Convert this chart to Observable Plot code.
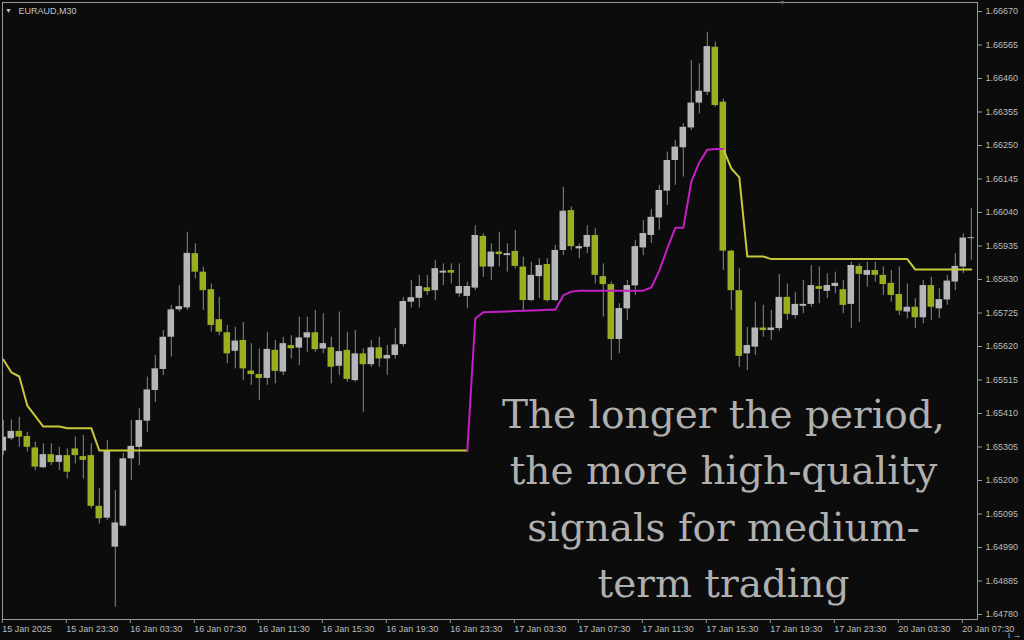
<!DOCTYPE html>
<html><head><meta charset="utf-8">
<script src="https://cdn.jsdelivr.net/npm/d3@7"></script>
<script src="https://cdn.jsdelivr.net/npm/@observablehq/plot@0.6"></script>
<style>html,body{margin:0;padding:0;background:#0c0c0c;overflow:hidden}</style>
</head><body><div id="chart"></div>
<script>
const symbolLabel = "EURAUD,M30";
const overlayText = "The longer the period,\nthe more high-quality\nsignals for medium-\nterm trading";

const openP = [
1.65292,1.65331,1.65354,1.65338,1.65302,1.65240,1.65281,1.65257,1.65278,1.65299,
1.65275,1.65278,1.65119,1.65082,1.64991,1.65057,1.65268,1.65304,1.65386,1.65482,
1.65548,1.65649,1.65735,1.65741,1.65911,1.65853,1.65798,1.65704,1.65663,1.65605,
1.65639,1.65543,1.65532,1.65520,1.65608,1.65540,1.65623,1.65615,1.65647,1.65663,
1.65612,1.65616,1.65558,1.65608,1.65513,1.65597,1.65563,1.65616,1.65581,1.65592,
1.65626,1.65759,1.65771,1.65804,1.65795,1.65850,1.65858,1.65785,1.65777,1.65803,
1.65965,1.65869,1.65916,1.65905,1.65918,1.65869,1.65764,1.65839,1.65877,1.65764,
1.65921,1.66046,1.65926,1.65931,1.65968,1.65839,1.65814,1.65642,1.65738,1.65810,
1.65929,1.65968,1.66023,1.66107,1.66203,1.66243,1.66305,1.66383,1.66417,1.66558,
1.66386,1.65919,1.65795,1.65597,1.65618,1.65678,1.65670,1.65676,1.65774,1.65717,
1.65746,1.65752,1.65808,1.65793,1.65808,1.65798,1.65752,1.65871,1.65843,1.65858,
1.65843,1.65818,1.65783,1.65728,1.65743,1.65710,1.65811,1.65738,1.65766,1.65822,
1.65869,1.65958];
const highP = [
1.65388,1.65390,1.65398,1.65351,1.65320,1.65315,1.65315,1.65304,1.65299,1.65336,
1.65341,1.65315,1.65174,1.65325,1.65169,1.65285,1.65388,1.65425,1.65524,1.65592,
1.65670,1.65749,1.65811,1.65978,1.65942,1.65869,1.65816,1.65774,1.65686,1.65680,
1.65696,1.65629,1.65613,1.65665,1.65639,1.65649,1.65654,1.65712,1.65712,1.65733,
1.65723,1.65649,1.65728,1.65665,1.65670,1.65613,1.65639,1.65649,1.65623,1.65676,
1.65774,1.65827,1.65843,1.65843,1.65890,1.65879,1.65879,1.65879,1.65822,1.65999,
1.65973,1.65942,1.65978,1.65942,1.65984,1.65900,1.65884,1.65895,1.65895,1.65937,
1.66119,1.66057,1.65942,1.65999,1.65989,1.65879,1.65822,1.65754,1.65827,1.65952,
1.66015,1.66049,1.66125,1.66229,1.66266,1.66318,1.66516,1.66506,1.66605,1.66574,
1.66396,1.65921,1.65864,1.65680,1.65759,1.65749,1.65733,1.65846,1.65816,1.65790,
1.65827,1.65874,1.65869,1.65848,1.65853,1.65827,1.65884,1.65879,1.65884,1.65884,
1.65869,1.65858,1.65869,1.65816,1.65770,1.65827,1.65837,1.65801,1.65843,1.65911,
1.65973,1.66052];
const lowP = [
1.65278,1.65325,1.65304,1.65289,1.65231,1.65237,1.65247,1.65231,1.65205,1.65252,
1.65205,1.65111,1.65064,1.65075,1.64803,1.65054,1.65200,1.65247,1.65351,1.65445,
1.65529,1.65587,1.65728,1.65733,1.65832,1.65733,1.65665,1.65654,1.65566,1.65550,
1.65513,1.65498,1.65451,1.65498,1.65503,1.65529,1.65581,1.65560,1.65602,1.65602,
1.65597,1.65503,1.65529,1.65508,1.65508,1.65414,1.65555,1.65555,1.65529,1.65581,
1.65618,1.65741,1.65741,1.65780,1.65764,1.65811,1.65816,1.65774,1.65738,1.65795,
1.65837,1.65827,1.65869,1.65853,1.65864,1.65728,1.65761,1.65770,1.65759,1.65761,
1.65905,1.65921,1.65895,1.65911,1.65816,1.65712,1.65576,1.65597,1.65702,1.65780,
1.65905,1.65943,1.65984,1.66062,1.66125,1.66151,1.66297,1.66349,1.66407,1.66370,
1.65858,1.65733,1.65554,1.65545,1.65592,1.65649,1.65639,1.65667,1.65702,1.65707,
1.65723,1.65743,1.65754,1.65770,1.65785,1.65723,1.65676,1.65696,1.65806,1.65822,
1.65780,1.65759,1.65717,1.65707,1.65676,1.65691,1.65702,1.65707,1.65749,1.65795,
1.65848,1.65890];
const closeP = [
1.65336,1.65354,1.65336,1.65304,1.65242,1.65281,1.65256,1.65278,1.65226,1.65278,
1.65263,1.65119,1.65080,1.65291,1.65067,1.65268,1.65307,1.65388,1.65484,1.65550,
1.65649,1.65735,1.65745,1.65912,1.65853,1.65795,1.65686,1.65665,1.65597,1.65637,
1.65550,1.65532,1.65520,1.65611,1.65542,1.65629,1.65613,1.65647,1.65663,1.65610,
1.65629,1.65555,1.65604,1.65517,1.65597,1.65563,1.65616,1.65581,1.65592,1.65625,
1.65761,1.65773,1.65808,1.65792,1.65864,1.65856,1.65850,1.65808,1.65808,1.65968,
1.65869,1.65916,1.65908,1.65911,1.65871,1.65764,1.65843,1.65874,1.65764,1.65921,
1.66044,1.65933,1.65933,1.65968,1.65843,1.65814,1.65642,1.65739,1.65811,1.65933,
1.65974,1.66025,1.66109,1.66203,1.66245,1.66307,1.66383,1.66420,1.66560,1.66375,
1.65919,1.65795,1.65589,1.65623,1.65678,1.65670,1.65678,1.65774,1.65721,1.65752,
1.65752,1.65811,1.65799,1.65811,1.65818,1.65749,1.65874,1.65846,1.65858,1.65843,
1.65814,1.65780,1.65731,1.65743,1.65710,1.65811,1.65743,1.65767,1.65825,1.65871,
1.65960,1.65961];

// trailing trend line value per bar
const trendLine = [
1.65579,1.65539,1.65526,1.65435,1.65402,1.65369,1.65369,1.65369,1.65364,1.65364,
1.65364,1.65364,1.65294,1.65294,1.65294,1.65294,1.65294,1.65294,1.65294,1.65294,
1.65294,1.65294,1.65294,1.65294,1.65294,1.65294,1.65294,1.65294,1.65294,1.65294,
1.65294,1.65294,1.65294,1.65294,1.65294,1.65294,1.65294,1.65294,1.65294,1.65294,
1.65294,1.65294,1.65294,1.65294,1.65294,1.65294,1.65294,1.65294,1.65294,1.65294,
1.65294,1.65294,1.65294,1.65294,1.65294,1.65294,1.65294,1.65294,1.65294,1.65708,
1.65727,1.65728,1.65729,1.65730,1.65731,1.65732,1.65733,1.65734,1.65735,1.65735,
1.65780,1.65792,1.65795,1.65795,1.65795,1.65795,1.65795,1.65795,1.65795,1.65795,
1.65795,1.65805,1.65858,1.65927,1.65992,1.65992,1.66137,1.66197,1.66237,1.66239,
1.66239,1.66178,1.66150,1.65902,1.65902,1.65902,1.65894,1.65894,1.65894,1.65894,
1.65894,1.65894,1.65894,1.65894,1.65894,1.65894,1.65894,1.65894,1.65894,1.65894,
1.65894,1.65894,1.65894,1.65894,1.65861,1.65861,1.65861,1.65861,1.65861,1.65861,
1.65861,1.65861];
const trendSegments = [
  {side: "down", from: 0, to: 58},
  {side: "up", from: 58, to: 90},
  {side: "down", from: 90, to: 121}
];

const priceTicks = [1.64780,1.64885,1.64990,1.65095,1.65200,1.65305,1.65410,1.65515,1.65620,1.65725,1.65830,1.65935,1.66040,1.66145,1.66250,1.66355,1.66460,1.66565,1.66670];
const timeTickBars = [0,8,16,24,32,40,48,56,64,72,80,88,96,104,112,120];
const timeTickLabels = ["15 Jan 2025","15 Jan 23:30","16 Jan 03:30","16 Jan 07:30","16 Jan 11:30","16 Jan 15:30","16 Jan 19:30","16 Jan 23:30","17 Jan 03:30","17 Jan 07:30","17 Jan 11:30","17 Jan 15:30","17 Jan 19:30","17 Jan 23:30","20 Jan 03:30","20 Jan 07:30"];

const bars = openP.map((o, i) => ({i, open: o, high: highP[i], low: lowP[i], close: closeP[i], up: closeP[i] >= o}));
const trendData = [];
trendSegments.forEach((s, k) => { for (let i = s.from; i <= s.to; i++) trendData.push({i, v: trendLine[i], seg: k, side: s.side}); });

const BULL = "#b6b6ba", BEAR = "#9cad1f", WICK = "#8a8a8e";
const half = 0.41;

const chart = Plot.plot({
  width: 1024, height: 640,
  marginLeft: 2, marginTop: 2, marginRight: 47, marginBottom: 21,
  style: {background: "#0c0c0c", color: "#bdbdbd", fontFamily: "'Liberation Sans', Arial, sans-serif", fontSize: "9px"},
  x: {domain: [-0.1, 121.775], axis: null},
  y: {domain: [1.64764328, 1.66698209], axis: null},
  marks: [
    Plot.ruleX(bars, {x: "i", y1: "low", y2: "high", stroke: WICK, strokeWidth: 1, clip: true}),
    Plot.rect(bars.filter(d => d.up), {x1: d => d.i - half, x2: d => d.i + half, y1: "open", y2: "close", fill: BULL, clip: true}),
    Plot.rect(bars.filter(d => !d.up), {x1: d => d.i - half, x2: d => d.i + half, y1: "open", y2: "close", fill: BEAR, clip: true}),
    Plot.line(trendData.filter(d => d.side === "down"), {x: "i", y: "v", z: "seg", stroke: "#c8c83a", strokeWidth: 2, clip: true}),
    Plot.line(trendData.filter(d => d.side === "up"), {x: "i", y: "v", z: "seg", stroke: "#c41fc4", strokeWidth: 2, clip: true}),
    Plot.frame({stroke: "#9a9a9a"}),
    Plot.axisY({anchor: "right", ticks: priceTicks, tickFormat: d => d.toFixed(5), tickSize: 4, tickPadding: 4, stroke: "#9a9a9a", fill: "#bdbdbd"}),
    Plot.axisX({anchor: "bottom", ticks: timeTickBars, tickFormat: d => timeTickLabels[timeTickBars.indexOf(d)], tickSize: 4, tickPadding: 2, textAnchor: "start", dx: -1, stroke: "#9a9a9a", fill: "#bdbdbd"}),
    Plot.text([symbolLabel], {frameAnchor: "top-left", dx: 16, dy: 9, text: d => d, fill: "#c4c4c4", fontSize: 9, textAnchor: "start", lineAnchor: "middle"}),
    Plot.text(["▼"], {frameAnchor: "top-left", dx: 6, dy: 8, text: d => d, fill: "#c4c4c4", fontSize: 7, textAnchor: "middle", lineAnchor: "middle"}),
    Plot.text(["▼"], {frameAnchor: "top-left", dx: 780, dy: -2, text: d => d, fill: "#6d5a78", fontSize: 7, textAnchor: "middle", lineAnchor: "top"}),
    Plot.text([overlayText], {frameAnchor: "top-left", dx: 721, dy: 385, text: d => d, fill: "#b0b0b0", fontSize: 39, fontFamily: "'DejaVu Serif', serif", textAnchor: "middle", lineAnchor: "top", lineHeight: 1.45})
  ]
});
document.getElementById("chart").appendChild(chart);
</script>
</body></html>
